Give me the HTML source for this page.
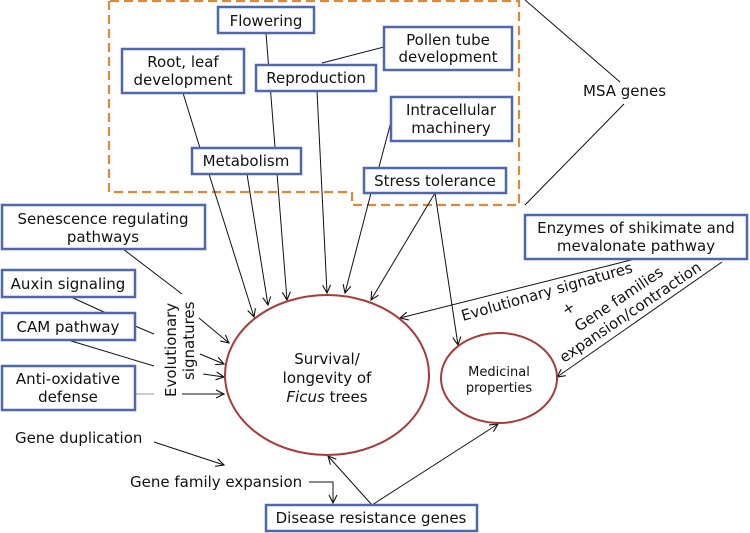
<!DOCTYPE html>
<html><head><meta charset="utf-8"><style>
html,body{margin:0;padding:0;background:#fff;}
svg{display:block;}
text{font-family:"DejaVu Sans","Liberation Sans",sans-serif;font-size:15px;fill:#111;}
.b{fill:#fff;stroke:#4f67b0;stroke-width:2.5;}
.l{stroke:#111;stroke-width:1;fill:none;}
</style></head><body>
<svg width="750" height="533" viewBox="0 0 750 533">
<defs><marker id="a" markerWidth="10" markerHeight="10" refX="9" refY="5" orient="auto" markerUnits="userSpaceOnUse"><path d="M1,1 L9,5 L1,9" fill="none" stroke="#111" stroke-width="1.1"/></marker></defs>
<path d="M109,1 L109,192 L352,192 L352,205 L519,205 L519,1 Z" fill="none" stroke="#e0883a" stroke-width="2.2" stroke-dasharray="9,5"/>
<line class="l" x1="525" y1="0" x2="620" y2="82"/>
<line class="l" x1="624" y1="104" x2="525" y2="205"/>
<text x="583" y="96">MSA genes</text>
<line class="l" x1="183" y1="93" x2="200" y2="148"/>
<line class="l" x1="266" y1="33" x2="287" y2="300" marker-end="url(#a)"/>
<line class="l" x1="209" y1="174" x2="254" y2="317" marker-end="url(#a)"/>
<line class="l" x1="247" y1="174" x2="268" y2="305" marker-end="url(#a)"/>
<line class="l" x1="317" y1="91" x2="327" y2="293" marker-end="url(#a)"/>
<line class="l" x1="322" y1="63" x2="384" y2="47"/>
<line class="l" x1="392" y1="118" x2="379" y2="167"/>
<line class="l" x1="371" y1="193" x2="345" y2="293" marker-end="url(#a)"/>
<line class="l" x1="435" y1="193" x2="371" y2="300" marker-end="url(#a)"/>
<line class="l" x1="435" y1="193" x2="458" y2="345" marker-end="url(#a)"/>
<line class="l" x1="123" y1="249" x2="182" y2="294"/>
<line class="l" x1="71" y1="297" x2="106" y2="313"/>
<line class="l" x1="135" y1="326" x2="154" y2="334"/>
<line class="l" x1="68" y1="340" x2="154" y2="366"/>
<line x1="135" y1="394" x2="154" y2="394" stroke="#999" stroke-width="1"/>
<line class="l" x1="199" y1="318" x2="229" y2="343" marker-end="url(#a)"/>
<line class="l" x1="200" y1="354" x2="224" y2="364" marker-end="url(#a)"/>
<line class="l" x1="203" y1="374" x2="224" y2="377" marker-end="url(#a)"/>
<line class="l" x1="182" y1="394" x2="224" y2="394" marker-end="url(#a)"/>
<line class="l" x1="154" y1="442" x2="224" y2="465" marker-end="url(#a)"/>
<path class="l" d="M309,482 L333,482 L333,503" marker-end="url(#a)"/>
<line class="l" x1="372" y1="505" x2="328" y2="456" marker-end="url(#a)"/>
<line class="l" x1="372" y1="505" x2="498" y2="424" marker-end="url(#a)"/>
<line class="l" x1="635" y1="259" x2="400" y2="318" marker-end="url(#a)"/>
<line class="l" x1="722" y1="262" x2="557" y2="377" marker-end="url(#a)"/>
<ellipse cx="327" cy="375" rx="102" ry="80" fill="none" stroke="#a83a3a" stroke-width="2"/>
<ellipse cx="499" cy="378" rx="58" ry="45" fill="none" stroke="#a83a3a" stroke-width="2"/>
<text x="327" y="364" text-anchor="middle">Survival/</text>
<text x="327" y="383" text-anchor="middle">longevity of</text>
<text x="327" y="402" text-anchor="middle"><tspan font-style="italic">Ficus</tspan> trees</text>
<text x="499" y="376" text-anchor="middle" style="font-size:13px">Medicinal</text>
<text x="499" y="392" text-anchor="middle" style="font-size:13px">properties</text>
<rect class="b" x="218" y="7" width="96" height="26"/><text x="266" y="26" text-anchor="middle">Flowering</text>
<rect class="b" x="122" y="49" width="122" height="44"/><text x="183" y="67" text-anchor="middle">Root, leaf</text><text x="183" y="85" text-anchor="middle">development</text>
<rect class="b" x="256" y="65" width="120" height="26"/><text x="316" y="83" text-anchor="middle">Reproduction</text>
<rect class="b" x="384" y="27" width="128" height="43"/><text x="448" y="45" text-anchor="middle">Pollen tube</text><text x="448" y="62" text-anchor="middle">development</text>
<rect class="b" x="391" y="97" width="121" height="44"/><text x="451" y="115" text-anchor="middle">Intracellular</text><text x="451" y="133" text-anchor="middle">machinery</text>
<rect class="b" x="192" y="148" width="109" height="26"/><text x="246" y="166" text-anchor="middle">Metabolism</text>
<rect class="b" x="364" y="168" width="142" height="25"/><text x="435" y="186" text-anchor="middle">Stress tolerance</text>
<rect class="b" x="2" y="205" width="203" height="44"/><text x="103" y="224" text-anchor="middle">Senescence regulating</text><text x="103" y="242" text-anchor="middle">pathways</text>
<rect class="b" x="2" y="270" width="133" height="27"/><text x="68" y="289" text-anchor="middle">Auxin signaling</text>
<rect class="b" x="2" y="313" width="133" height="27"/><text x="68" y="332" text-anchor="middle">CAM pathway</text>
<rect class="b" x="2" y="366" width="133" height="44"/><text x="68" y="384" text-anchor="middle">Anti-oxidative</text><text x="68" y="402" text-anchor="middle">defense</text>
<rect class="b" x="525" y="215" width="222" height="44"/><text x="636" y="233" text-anchor="middle">Enzymes of shikimate and</text><text x="636" y="251" text-anchor="middle">mevalonate pathway</text>
<rect class="b" x="266" y="505" width="211" height="26"/><text x="371" y="523" text-anchor="middle">Disease resistance genes</text>
<text x="15" y="443">Gene duplication</text>
<text x="130" y="487">Gene family expansion</text>
<text transform="translate(176,397) rotate(-90)">Evolutionary</text>
<text transform="translate(194,380) rotate(-90)">signatures</text>
<text transform="translate(463,321) rotate(-16)">Evolutionary signatures</text>
<text transform="translate(566,316) rotate(-34)">+</text>
<text transform="translate(579,332) rotate(-34)">Gene families</text>
<text transform="translate(564,363) rotate(-34)">expansion/contraction</text>
</svg>
</body></html>
